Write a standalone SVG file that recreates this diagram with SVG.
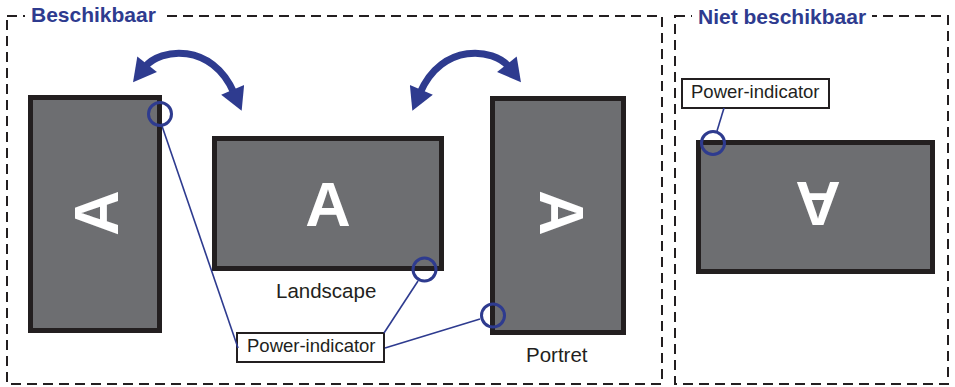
<svg xmlns="http://www.w3.org/2000/svg" width="955" height="387" viewBox="0 0 955 387">
<style>
.frame{fill:none;stroke:#231f20;stroke-width:2;stroke-dasharray:10 6}
.title{font-family:"Liberation Sans",Arial,sans-serif;font-weight:bold;font-size:21px;fill:#2e3b8f}
.screen{fill:#6d6e71;stroke:#231f20;stroke-width:5}
.letter{font-family:"Liberation Sans",Arial,sans-serif;font-weight:bold;font-size:63px;fill:#ffffff;text-anchor:middle}
.led{fill:none;stroke:#2e3b8f;stroke-width:3}
.lead{fill:none;stroke:#2e3b8f;stroke-width:1.6}
.lbl{fill:#ffffff;stroke:#231f20;stroke-width:2}
.lbltxt{font-family:"Liberation Sans",Arial,sans-serif;font-size:18.5px;fill:#231f20}
.cap{font-family:"Liberation Sans",Arial,sans-serif;font-size:20.5px;fill:#231f20}
.rot{fill:none;stroke:#2e3b8f;stroke-width:7}
</style>
<defs>
<marker id="head" markerUnits="userSpaceOnUse" markerWidth="25" markerHeight="25" viewBox="0 0 20 22" refX="3" refY="11" orient="auto-start-reverse">
<path d="M0,0 L20,11 L0,22 z" fill="#2e3b8f"/>
</marker>
</defs>
<rect width="955" height="387" fill="#ffffff"/>
<g id="frame-available">
<rect class="frame" x="7" y="16" width="655" height="368"/>
<rect x="25" y="4" width="138" height="24" fill="#ffffff"/>
<text class="title" x="31" y="22">Beschikbaar</text>
</g>
<g id="frame-unavailable">
<rect class="frame" x="675" y="16" width="273" height="368"/>
<rect x="692" y="4" width="180" height="24" fill="#ffffff"/>
<text class="title" x="698" y="24">Niet beschikbaar</text>
</g>
<g id="screen-portrait-left">
<rect class="screen" x="30.5" y="97.5" width="129" height="233"/>
<text class="letter" transform="translate(96,213) rotate(-90)" y="22">A</text>
</g>
<g id="screen-landscape">
<rect class="screen" x="214.5" y="138.5" width="227" height="130"/>
<text class="letter" x="328" y="226">A</text>
<text class="cap" x="276" y="298">Landscape</text>
</g>
<g id="screen-portrait-right">
<rect class="screen" x="492.5" y="98.5" width="131" height="234"/>
<text class="letter" transform="translate(562,213) rotate(90)" y="22">A</text>
<text class="cap" x="526" y="362">Portret</text>
</g>
<g id="screen-upside-down">
<rect class="screen" x="698.5" y="142.5" width="234" height="129"/>
<text class="letter" transform="translate(818,204) rotate(180)" y="22">A</text>
</g>
<g id="label-power-left">
<rect class="lbl" x="237" y="333" width="147" height="29"/>
<text class="lbltxt" x="247" y="352">Power-indicator</text>
</g>
<g id="label-power-right">
<rect class="lbl" x="682" y="79" width="147" height="29"/>
<text class="lbltxt" x="691" y="98">Power-indicator</text>
</g>
<g id="connectors">
<path class="rot" d="M145,67 C160,48 212,42 234,93" marker-start="url(#head)" marker-end="url(#head)"/>
<path class="rot" d="M509,67 C494,48 442,42 420,93" marker-start="url(#head)" marker-end="url(#head)"/>
<line class="lead" x1="162" y1="126" x2="238" y2="348"/>
<line class="lead" x1="418" y1="281" x2="384" y2="333"/>
<line class="lead" x1="480" y1="319" x2="385" y2="348"/>
<line class="lead" x1="724" y1="108" x2="717" y2="131"/>
<circle class="led" cx="160" cy="114" r="11.5"/>
<circle class="led" cx="424.5" cy="269.5" r="11.5"/>
<circle class="led" cx="493" cy="315.5" r="11.5"/>
<circle class="led" cx="713" cy="143" r="11.5"/>
</g>
</svg>
